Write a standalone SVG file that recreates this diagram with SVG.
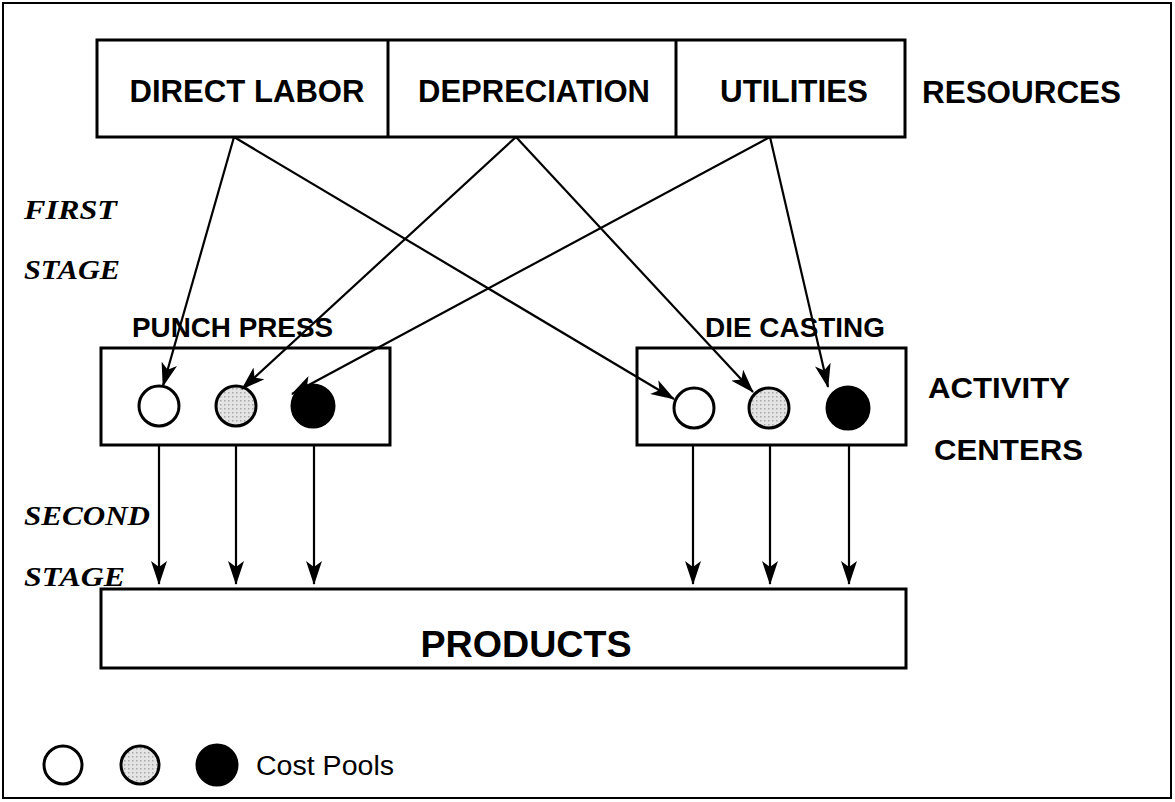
<svg xmlns="http://www.w3.org/2000/svg" width="1175" height="802" viewBox="0 0 1175 802">
<style>
.box{fill:#fff;stroke:#000;stroke-width:3}
.h{font-family:"Liberation Sans",Arial,sans-serif;font-weight:bold;fill:#000}
.st{font-family:"Liberation Serif","Times New Roman",serif;font-weight:bold;font-style:italic;font-size:28px;fill:#000}
.c{stroke:#000;stroke-width:3}
.w{fill:#fff}
.g{fill:url(#dots)}
.b{fill:#000}
.ln{stroke:#000;stroke-width:2.2;fill:none;marker-end:url(#ah)}
</style>
<defs>
<marker id="ah" viewBox="0 0 24 16" refX="23" refY="8" markerWidth="24" markerHeight="16" markerUnits="userSpaceOnUse" orient="auto">
<path d="M0,0 L24,8 L0,16 L6,8 Z" fill="#000"/>
</marker>
<pattern id="dots" width="4" height="4" patternUnits="userSpaceOnUse">
<rect width="4" height="4" fill="#e4e4e4"/>
<rect width="1.5" height="1.5" fill="#a8a8a8"/>
</pattern>
</defs>
<rect x="0" y="0" width="1175" height="802" fill="#fff"/>
<rect x="3" y="3" width="1168" height="795" fill="none" stroke="#000" stroke-width="2"/>

<g id="resources">
<rect class="box" x="97" y="40" width="808" height="97"/>
<line x1="388" y1="40" x2="388" y2="137" stroke="#000" stroke-width="3"/>
<line x1="676" y1="40" x2="676" y2="137" stroke="#000" stroke-width="3"/>
<text class="h" x="247" y="102" font-size="32" text-anchor="middle" textLength="235" lengthAdjust="spacingAndGlyphs">DIRECT LABOR</text>
<text class="h" x="534" y="102" font-size="32" text-anchor="middle" textLength="232" lengthAdjust="spacingAndGlyphs">DEPRECIATION</text>
<text class="h" x="794" y="102" font-size="32" text-anchor="middle" textLength="148" lengthAdjust="spacingAndGlyphs">UTILITIES</text>
</g>
<text class="h" x="922" y="103" font-size="31" textLength="199" lengthAdjust="spacingAndGlyphs">RESOURCES</text>

<text class="st" x="24" y="219" textLength="93" lengthAdjust="spacingAndGlyphs">FIRST</text>
<text class="st" x="24" y="279" textLength="96" lengthAdjust="spacingAndGlyphs">STAGE</text>
<text class="st" x="24" y="525" textLength="126" lengthAdjust="spacingAndGlyphs">SECOND</text>
<text class="st" x="24" y="586" textLength="101" lengthAdjust="spacingAndGlyphs">STAGE</text>

<g id="punch-press">
<text class="h" x="132" y="337" font-size="28" textLength="201" lengthAdjust="spacingAndGlyphs">PUNCH PRESS</text>
<rect class="box" x="101" y="348" width="289" height="97"/>
<circle class="c w" cx="159" cy="406" r="20"/>
<circle class="c g" cx="236" cy="406" r="20"/>
<circle class="c b" cx="313" cy="406" r="21"/>
</g>

<g id="die-casting">
<text class="h" x="705" y="337" font-size="28" textLength="180" lengthAdjust="spacingAndGlyphs">DIE CASTING</text>
<rect class="box" x="637" y="348" width="269" height="97"/>
<circle class="c w" cx="694" cy="408" r="20"/>
<circle class="c g" cx="769" cy="408" r="20"/>
<circle class="c b" cx="848" cy="408" r="21"/>
</g>

<text class="h" x="928" y="398" font-size="30" textLength="142" lengthAdjust="spacingAndGlyphs">ACTIVITY</text>
<text class="h" x="934" y="460" font-size="30" textLength="149" lengthAdjust="spacingAndGlyphs">CENTERS</text>

<g id="products">
<rect class="box" x="101" y="589" width="805" height="79"/>
<text class="h" x="526" y="657" font-size="36" text-anchor="middle" textLength="211" lengthAdjust="spacingAndGlyphs">PRODUCTS</text>
</g>

<g id="connectors">
<line class="ln" x1="234" y1="137" x2="163" y2="386"/>
<line class="ln" x1="234" y1="137" x2="674" y2="399"/>
<line class="ln" x1="516" y1="137" x2="242" y2="389"/>
<line class="ln" x1="516" y1="137" x2="753" y2="392"/>
<line class="ln" x1="770" y1="137" x2="292" y2="394"/>
<line class="ln" x1="770" y1="137" x2="828" y2="387"/>
<line class="ln" x1="159" y1="445" x2="159" y2="584"/>
<line class="ln" x1="236" y1="445" x2="236" y2="584"/>
<line class="ln" x1="314" y1="445" x2="314" y2="584"/>
<line class="ln" x1="693" y1="445" x2="693" y2="584"/>
<line class="ln" x1="770" y1="445" x2="770" y2="584"/>
<line class="ln" x1="849" y1="445" x2="849" y2="584"/>
</g>

<g id="legend">
<circle class="c w" cx="63" cy="765" r="19"/>
<circle class="c g" cx="140" cy="765" r="19"/>
<circle class="c b" cx="217" cy="765" r="20"/>
<text x="256" y="775" font-family="Liberation Sans,Arial,sans-serif" font-size="27" fill="#000" textLength="138" lengthAdjust="spacingAndGlyphs">Cost Pools</text>
</g>
</svg>
